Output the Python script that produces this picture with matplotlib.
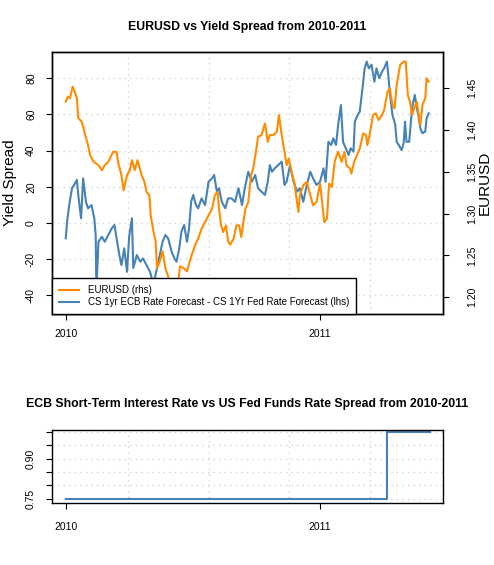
import matplotlib
matplotlib.use("Agg")
import matplotlib.pyplot as plt
import pandas as pd

plt.rcParams["font.family"] = ["Liberation Sans", "DejaVu Sans"]
plt.rcParams["axes.unicode_minus"] = False

START = pd.Timestamp("2010-01-01")

# EURUSD (right axis), days since 2010-01-01
eur_day = [0, 3, 6, 10, 12, 16, 18, 23, 28, 32, 35, 40, 47, 52, 56, 61, 68, 73, 75, 80,
           83, 88, 92, 95, 99, 103, 109, 113, 116, 120, 122, 126, 129, 131, 135, 139, 143,
           147, 152, 157, 161, 164, 169, 174, 176, 181, 186, 190, 195, 200, 205, 210, 214,
           218, 220, 223, 226, 230, 233, 236, 241, 245, 249, 252, 255, 258, 262, 266, 269,
           273, 276, 281, 286, 290, 293, 298, 303, 306, 310, 314, 317, 320, 324, 328, 332,
           334, 336, 341, 346, 351, 355, 360, 365, 368, 371, 375, 378, 382, 386, 389, 391,
           396, 400, 403, 408, 410, 414, 418, 422, 427, 431, 433, 437, 441, 445, 449, 454,
           457, 462, 465, 469, 472, 475, 480, 485, 488, 491, 494, 497, 500, 504, 506, 509,
           512, 516, 518, 521]
eur_val = [1.434, 1.440, 1.438, 1.452, 1.448, 1.438, 1.4145, 1.410, 1.394, 1.382, 1.370,
           1.362, 1.358, 1.352, 1.358, 1.362, 1.374, 1.374, 1.362, 1.346, 1.328, 1.346,
           1.352, 1.364, 1.352, 1.364, 1.346, 1.338, 1.326, 1.322, 1.298, 1.278, 1.267,
           1.235, 1.243, 1.255, 1.235, 1.225, 1.205, 1.195, 1.215, 1.237, 1.235, 1.231,
           1.237, 1.251, 1.263, 1.270, 1.282, 1.290, 1.298, 1.306, 1.322, 1.326, 1.306,
           1.286, 1.278, 1.286, 1.267, 1.263, 1.270, 1.286, 1.286, 1.272, 1.290, 1.306,
           1.314, 1.346, 1.354, 1.374, 1.392, 1.394, 1.408, 1.386, 1.394, 1.394, 1.398,
           1.418, 1.394, 1.374, 1.358, 1.366, 1.350, 1.338, 1.314, 1.302, 1.322, 1.334,
           1.338, 1.322, 1.310, 1.314, 1.336, 1.314, 1.290, 1.294, 1.336, 1.332, 1.362,
           1.370, 1.374, 1.362, 1.374, 1.358, 1.354, 1.348, 1.362, 1.370, 1.378, 1.396,
           1.394, 1.382, 1.398, 1.418, 1.420, 1.412, 1.418, 1.424, 1.446, 1.450, 1.430,
           1.426, 1.454, 1.478, 1.482, 1.482, 1.442, 1.434, 1.418, 1.426, 1.434, 1.422,
           1.406, 1.430, 1.438, 1.462, 1.458]

# CS 1yr ECB - CS 1yr Fed rate forecast spread (left axis)
spread_day = [0, 2, 5, 9, 12, 16, 18, 22, 25, 29, 32, 37, 41, 43, 44, 47, 52, 56, 61, 66,
              70, 73, 77, 80, 84, 88, 91, 95, 97, 102, 107, 111, 116, 121, 126, 131, 135,
              139, 143, 147, 152, 156, 159, 163, 166, 170, 174, 177, 180, 183, 187, 190,
              195, 200, 205, 210, 213, 217, 220, 224, 229, 233, 238, 243, 248, 253, 257,
              262, 267, 272, 276, 281, 286, 290, 293, 296, 300, 305, 310, 314, 317, 322,
              327, 332, 336, 341, 346, 351, 355, 360, 365, 370, 373, 377, 381, 384, 388,
              391, 395, 398, 402, 406, 409, 413, 415, 419, 422, 426, 429, 432, 435, 439,
              443, 446, 450, 454, 457, 461, 463, 465, 469, 473, 475, 478, 482, 485, 487,
              489, 493, 497, 501, 504, 506, 509, 512, 516, 518, 521]
spread_val = [-8.5, 0.7, 9.9, 19.2, 21.0, 23.8, 15.5, 2.6, 24.7, 11.7, 8.1, 9.9, 2.6, -6.7,
              -37.0, -10.4, -7.6, -10.4, -6.7, -3.0, -1.1, -8.5, -17.7, -23.3, -14.0, -27.0,
              -7.6, 2.6, -24.9, -17.7, -21.4, -19.6, -23.3, -27.0, -34.0, -24.9, -17.7,
              -10.4, -6.7, -8.5, -15.9, -19.6, -21.4, -14.0, -4.8, -1.1, -10.4, -3.0, 11.7,
              15.5, 9.9, 8.1, 13.6, 9.9, 22.8, 24.7, 26.5, 17.3, 19.2, 11.7, 8.1, 13.6,
              13.6, 11.7, 19.2, 9.9, 19.2, 28.3, 22.8, 26.5, 19.2, 17.3, 15.5, 22.8, 32.0,
              28.3, 30.2, 32.0, 33.9, 21.0, 22.8, 32.0, 22.8, 17.3, 19.2, 11.7, 21.0, 28.3,
              24.7, 21.0, 22.8, 30.2, 22.8, 44.9, 43.1, 46.8, 43.1, 54.2, 65.2, 44.9, 41.3,
              37.6, 41.3, 39.4, 56.0, 59.7, 61.5, 74.5, 85.5, 89.2, 85.5, 87.4, 78.1, 85.5,
              80.0, 83.7, 85.5, 89.2, 81.8, 72.6, 59.7, 54.2, 44.9, 43.1, 40.3, 44.0, 56.0,
              44.9, 44.9, 63.4, 70.8, 63.4, 59.7, 52.3, 49.6, 50.5, 57.9, 60.6]

# ECB short-term rate minus Fed funds rate
ecb_day = [0, 461, 523]
ecb_val = [0.75, 1.00, 1.00]

year_days = [0, 365]
year_labels = ["2010", "2011"]
grid_days = [90, 205, 321, 437]

left_ticks = [-40, -20, 0, 20, 40, 60, 80]
right_ticks = [1.20, 1.25, 1.30, 1.35, 1.40, 1.45]
low_ticks = [0.75, 0.80, 0.85, 0.90, 0.95, 1.00]
low_labels = ["0.75", "", "", "0.90", "", ""]


def to_dates(days):
    return START + pd.to_timedelta(days, unit="D")


ORANGE = "#FF8C00"
BLUE = "#4682B4"
GRID = dict(color="#d3d3d3", linestyle=(0, (1, 3)), linewidth=1)

fig = plt.figure(figsize=(4.94, 5.65), dpi=100)
W, H = 494, 565
ax1 = fig.add_axes([52 / W, 1 - 314 / H, 391 / W, 262 / H])
ax2 = ax1.twinx()
ax3 = fig.add_axes([52 / W, 1 - 503 / H, 391 / W, 73 / H])

xlim = to_dates([-19.7, 541.5])

# top panel
h_spread, = ax1.plot(to_dates(spread_day), spread_val, color=BLUE, lw=1.5)
h_eur, = ax2.plot(to_dates(eur_day), eur_val, color=ORANGE, lw=1.5)

ax1.set_xlim(xlim)
ax1.set_ylim(-50.3, 94.5)
ax2.set_ylim(1.180, 1.4934)
ax1.set_yticks(left_ticks, [str(t) for t in left_ticks], rotation=90, va="center")
ax2.set_yticks(right_ticks, [f"{t:.2f}" for t in right_ticks], rotation=90, va="center")
ax1.yaxis.grid(True, **GRID)

for ax in (ax1, ax3):
    ax.set_xticks(to_dates(year_days), year_labels)
    for d in to_dates(grid_days):
        ax.axvline(d, zorder=1, **GRID)

for ax in (ax1, ax2, ax3):
    ax.tick_params(direction="out", length=4.5, width=0.8, labelsize=7.5, color="black")
    for s in ax.spines.values():
        s.set_linewidth(1)
        s.set_color("black")
ax1.tick_params(axis="y", pad=7)
ax2.tick_params(axis="y", pad=13)
ax1.tick_params(axis="x", pad=6)

leg = ax2.legend([h_eur, h_spread],
                 ["EURUSD (rhs)", "CS 1yr ECB Rate Forecast - CS 1Yr Fed Rate Forecast (lhs)"],
                 loc="lower left", bbox_to_anchor=(0, 0), borderaxespad=0, fancybox=False,
                 edgecolor="black", framealpha=1, fontsize=7, handlelength=2.1,
                 handletextpad=0.9, labelspacing=0.2, borderpad=0.7)
leg.get_frame().set_linewidth(1)

fig.text(247.5 / W, 1 - 27 / H, "EURUSD vs Yield Spread from 2010-2011",
         ha="center", va="center", fontsize=8.8, fontweight="bold")
fig.text(10 / W, 0.5 * (2 - 52 / H - 314 / H) / 1, "Yield Spread", rotation=90,
         ha="center", va="center", fontsize=11)
fig.text(485 / W, 0.5 * (2 - 52 / H - 314 / H), "EURUSD", rotation=90,
         ha="center", va="center", fontsize=11)

# bottom panel
ax3.plot(to_dates(ecb_day), ecb_val, drawstyle="steps-post", color=BLUE, lw=1.5)
ax3.set_xlim(xlim)
ax3.set_ylim(0.735, 1.006)
ax3.set_yticks(low_ticks, low_labels, rotation=90, va="center")
ax3.yaxis.grid(True, **GRID)
ax3.tick_params(axis="y", pad=7)
ax3.tick_params(axis="x", pad=9)

fig.text(247.5 / W, 1 - 404 / H,
         "ECB Short-Term Interest Rate vs US Fed Funds Rate Spread from 2010-2011",
         ha="center", va="center", fontsize=8.8, fontweight="bold")

fig.savefig("out.png", dpi=100)
